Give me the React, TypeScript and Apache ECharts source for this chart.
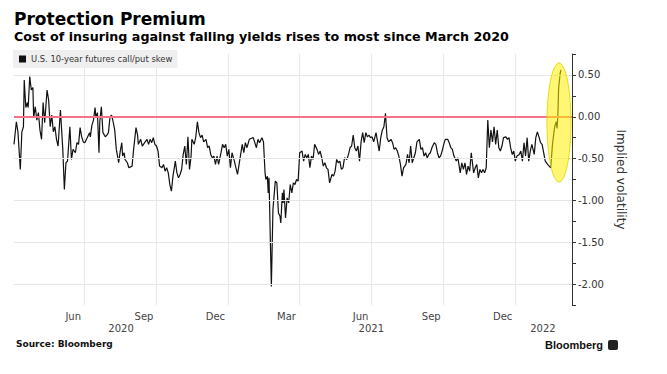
import React, { useEffect, useRef } from "react";
import * as echarts from "echarts";

// ---------- axis / calendar ----------
const START_DATE = "2020-03-04";
const END_DATE = "2022-02-11";
const MONTH_NAMES = ["Jan", "Feb", "Mar", "Apr", "May", "Jun", "Jul", "Aug", "Sep", "Oct", "Nov", "Dec"];
const QUARTER_MONTHS = ["03", "06", "09", "12"];
const YEAR_LABEL_DATES = ["2020-07-18", "2021-06-01", "2022-01-05"];
const Y_MIN = -2.25;
const Y_MAX = 0.75;
const Y_STEP = 0.25;
const GRID_LEVELS = [0.5, -0.5, -1.0, -1.5, -2.0];
const ZERO_LEVEL = 0;

// ---------- texts ----------
const TITLE = "Protection Premium";
const SUBTITLE = "Cost of insuring against falling yields rises to most since March 2020";
const SERIES_NAME = "U.S. 10-year futures call/put skew";
const Y_NAME = "Implied volatility";
const SOURCE = "Source: Bloomberg";

// ---------- data: [days since START_DATE, skew] ----------
const skewMar2020 = [
  [0, -0.33], [3, -0.06], [5, -0.18], [8, -0.63], [10, -0.18], [12, -0.12], [13, 0.44], [15, 0.11], [17, 0.17], [18, 0.11],
  [20, 0.48], [22, 0.32], [24, 0.35], [25, -0.01], [27, 0.12], [29, -0.04], [31, 0.05], [33, -0.16], [35, -0.27], [37, 0.17],
  [39, -0.07], [42, 0.32], [44, 0.2], [46, -0.12], [48, 0.02], [50, -0.18], [52, -0.12], [54, -0.27], [56, -0.35], [59, 0.08],
  [62, -0.39], [64, -0.87], [66, -0.55], [68, -0.53], [71, -0.12], [73, -0.51], [75, -0.39], [78, -0.43], [80, -0.31], [82, -0.33],
  [84, -0.13], [86, -0.24], [88, -0.3], [90, -0.31], [93, -0.25], [96, -0.19], [97, -0.24], [99, -0.1], [101, -0.04], [103, 0.11],
  [104, -0.01], [106, 0.05], [108, -0.43], [109, -0.06], [111, 0.12], [113, -0.19], [116, -0.24], [118, -0.22], [120, -0.19], [122, 0.0],
  [124, 0.02], [126, -0.06], [128, -0.16], [130, -0.39], [133, -0.55], [135, -0.41], [137, -0.31], [138, -0.47], [140, -0.43], [141, -0.51],
  [144, -0.55], [146, -0.61], [150, -0.59], [152, -0.39], [155, -0.13], [157, -0.22], [158, -0.33], [161, -0.27], [163, -0.35],
];
const skewAug2020 = [
  [166, -0.31], [169, -0.27], [171, -0.33], [173, -0.27], [175, -0.31], [177, -0.25], [179, -0.33], [181, -0.35], [183, -0.41], [185, -0.59],
  [188, -0.61], [190, -0.57], [192, -0.65], [194, -0.61], [196, -0.67], [198, -0.81], [200, -0.89], [202, -0.71], [205, -0.53], [207, -0.67],
  [209, -0.73], [211, -0.69], [213, -0.63], [215, -0.45], [217, -0.35], [219, -0.57], [221, -0.24], [223, -0.63], [225, -0.47], [226, -0.27],
  [229, -0.33], [231, -0.24], [233, -0.06], [235, -0.19], [237, -0.25], [239, -0.22], [241, -0.3], [244, -0.27], [246, -0.37], [248, -0.35],
  [250, -0.45], [252, -0.49], [254, -0.47], [256, -0.57], [258, -0.47], [260, -0.57], [263, -0.43], [265, -0.33], [267, -0.37], [269, -0.33],
  [271, -0.47], [273, -0.39], [275, -0.61], [277, -0.43], [280, -0.53], [282, -0.61], [284, -0.69], [286, -0.57], [288, -0.45], [290, -0.33],
  [292, -0.43], [294, -0.31], [296, -0.37], [299, -0.27],
];
const skewDec2020 = [
  [301, -0.26], [304, -0.25], [306, -0.31], [308, -0.37], [310, -0.27], [312, -0.31], [315, -0.25], [317, -0.3], [319, -0.67], [320, -0.75],
  [322, -0.71], [323, -0.91], [324, -0.73], [327, -2.03], [329, -1.11], [332, -0.77], [334, -0.79], [336, -1.15], [338, -1.19], [339, -1.27],
  [341, -0.91], [342, -1.03], [343, -0.87], [345, -1.21], [347, -0.97], [349, -1.03], [351, -0.81], [353, -0.91], [355, -0.79], [357, -0.81],
  [359, -0.75], [361, -0.77], [363, -0.43], [366, -0.41], [368, -0.53], [370, -0.45], [372, -0.49], [374, -0.45], [376, -0.61], [378, -0.47],
  [380, -0.51], [382, -0.33], [385, -0.39], [387, -0.45], [389, -0.41], [391, -0.49], [393, -0.59], [395, -0.55], [397, -0.61], [399, -0.63],
  [401, -0.79], [404, -0.69], [406, -0.71], [408, -0.65], [410, -0.51], [412, -0.55],
];
const skewApr2021 = [
  [414, -0.53], [416, -0.63], [418, -0.61], [420, -0.49], [423, -0.51], [425, -0.45], [427, -0.37], [429, -0.35], [431, -0.22], [433, -0.37],
  [435, -0.41], [437, -0.35], [439, -0.53], [441, -0.3], [443, -0.19], [445, -0.31], [447, -0.19], [449, -0.24], [451, -0.22], [453, -0.25],
  [455, -0.24], [457, -0.3], [460, -0.19], [462, -0.3], [464, -0.41], [466, -0.25], [468, -0.16], [470, -0.12], [472, 0.04], [474, -0.25],
  [476, -0.3], [479, -0.27], [481, -0.31], [483, -0.39], [485, -0.37], [487, -0.41], [489, -0.47], [491, -0.57], [493, -0.71], [495, -0.61],
  [498, -0.57], [500, -0.45], [502, -0.55], [504, -0.35], [506, -0.55], [508, -0.49], [510, -0.43], [512, -0.3], [515, -0.27], [517, -0.39],
  [519, -0.37], [521, -0.47], [523, -0.43], [525, -0.49], [527, -0.45], [529, -0.43], [531, -0.37], [534, -0.31], [536, -0.33], [538, -0.43],
  [540, -0.49], [542, -0.47], [544, -0.41], [546, -0.33], [548, -0.27], [551, -0.27], [553, -0.31], [555, -0.37], [557, -0.39], [559, -0.47],
];
const skewSep2021 = [
  [562, -0.53], [564, -0.49], [567, -0.67], [569, -0.55], [571, -0.63], [573, -0.55], [575, -0.69], [577, -0.59], [579, -0.65], [581, -0.43],
  [584, -0.67], [586, -0.61], [588, -0.57], [590, -0.73], [592, -0.63], [594, -0.67], [596, -0.63], [598, -0.67], [600, -0.61], [602, -0.04],
  [604, -0.37], [606, -0.16], [608, -0.3], [610, -0.12], [612, -0.33], [614, -0.16], [616, -0.37], [618, -0.41], [620, -0.35], [622, -0.25],
  [625, -0.24], [627, -0.27], [629, -0.25], [631, -0.37], [633, -0.45], [635, -0.41], [637, -0.53], [639, -0.47], [642, -0.45], [644, -0.41],
  [646, -0.53], [648, -0.31], [650, -0.47], [652, -0.25], [654, -0.53], [656, -0.41], [658, -0.33], [661, -0.45], [663, -0.25], [665, -0.18],
  [667, -0.24], [669, -0.31], [671, -0.33], [673, -0.43], [675, -0.53], [678, -0.57], [680, -0.59], [682, -0.61], [684, -0.35], [686, -0.19],
  [687, -0.12], [689, -0.06], [690, -0.14], [691, 0.0], [692, 0.34], [694, 0.52], [695, 0.56],
];

function buildDates(start: string, end: string): string[] {
  const out: string[] = [];
  const d = new Date(start + "T00:00:00Z");
  const e = new Date(end + "T00:00:00Z");
  while (d.getTime() <= e.getTime()) {
    out.push(d.toISOString().slice(0, 10));
    d.setUTCDate(d.getUTCDate() + 1);
  }
  return out;
}

const FONT = '"DejaVu Sans", Verdana, sans-serif';

export default function App() {
  const ref = useRef<HTMLDivElement>(null);

  useEffect(() => {
    document.body.style.margin = "0";
    if (!ref.current) return;
    const chart = echarts.init(ref.current, null, { renderer: "svg" });
    const dates = buildDates(START_DATE, END_DATE);
    const obs = [...skewMar2020, ...skewAug2020, ...skewDec2020, ...skewApr2021, ...skewSep2021];
    const seriesData = obs.map(([day, v]) => [dates[day], v]);

    const isQuarterStart = (_i: number, v: string) =>
      v.slice(8) === "01" && QUARTER_MONTHS.includes(v.slice(5, 7));
    const isYearLabel = (_i: number, v: string) => YEAR_LABEL_DATES.includes(v);

    chart.setOption({
      animation: false,
      textStyle: { fontFamily: FONT },
      grid: { left: 14, right: 95, top: 54, bottom: 69, containLabel: false, outerBoundsMode: "none" },
      legend: {
        data: [SERIES_NAME],
        left: 13,
        top: 50,
        padding: [5, 5, 5, 6],
        backgroundColor: "#efefef",
        icon: "rect",
        itemWidth: 7,
        itemHeight: 7,
        textStyle: { fontFamily: FONT, fontSize: 8.4, color: "#333" },
        selectedMode: false,
      },
      xAxis: [
        {
          type: "category",
          data: dates,
          boundaryGap: false,
          axisLine: { show: false },
          axisTick: { show: false },
          axisLabel: {
            interval: isQuarterStart,
            formatter: (v: string) => MONTH_NAMES[parseInt(v.slice(5, 7), 10) - 1],
            align: "right",
            padding: [0, 3, 0, 0],
            margin: 6,
            color: "#444",
            fontSize: 10,
            fontFamily: FONT,
          },
          splitLine: { show: true, interval: isQuarterStart, lineStyle: { color: "#e8e8e8", width: 1 } },
        },
        {
          type: "category",
          data: dates,
          position: "bottom",
          offset: 12,
          boundaryGap: false,
          axisLine: { show: false },
          axisTick: { show: false },
          splitLine: { show: false },
          axisLabel: {
            interval: isYearLabel,
            formatter: (v: string) => v.slice(0, 4),
            margin: 6,
            color: "#444",
            fontSize: 10,
            fontFamily: FONT,
          },
        },
      ],
      yAxis: {
        type: "value",
        position: "right",
        min: Y_MIN,
        max: Y_MAX,
        interval: Y_STEP,
        name: Y_NAME,
        nameLocation: "middle",
        nameGap: 40,
        nameRotate: -90,
        nameTextStyle: { fontFamily: FONT, fontSize: 12, color: "#333" },
        axisLine: { show: true, lineStyle: { color: "#333", width: 1 } },
        axisTick: { show: true, inside: false, length: 4, lineStyle: { color: "#333" } },
        axisLabel: {
          margin: 6,
          color: "#333",
          fontSize: 10,
          fontFamily: FONT,
          formatter: (v: number) => (Math.round(v / Y_STEP) % 2 === 0 ? v.toFixed(2) : ""),
        },
        splitLine: { show: false },
      },
      series: [
        {
          name: "reference lines",
          type: "line",
          data: [],
          z: 1,
          silent: true,
          markLine: {
            silent: true,
            symbol: ["none", "none"],
            label: { show: false },
            animation: false,
            data: [
              ...GRID_LEVELS.map((v) => ({ yAxis: v, lineStyle: { color: "#e6e6e6", width: 1, type: "solid" } })),
              { yAxis: ZERO_LEVEL, lineStyle: { color: "#f47388", width: 2, type: "solid" } },
            ],
          },
        },
        {
          name: SERIES_NAME,
          type: "line",
          data: seriesData,
          showSymbol: false,
          symbol: "none",
          z: 3,
          lineStyle: { color: "#111", width: 1.2 },
          itemStyle: { color: "#111" },
        },
      ],
      graphic: [
        {
          type: "text",
          left: 14,
          top: 10,
          style: { text: TITLE, font: `bold 17px ${FONT}`, fill: "#000" },
        },
        {
          type: "text",
          left: 14,
          top: 30,
          style: { text: SUBTITLE, font: `bold 12.7px ${FONT}`, fill: "#000" },
        },
        {
          type: "text",
          left: 16,
          top: 339,
          style: { text: SOURCE, font: `bold 9px ${FONT}`, fill: "#111" },
        },
        {
          type: "text",
          right: 64,
          top: 339,
          style: { text: "Bloomberg", font: 'bold 11px "Liberation Sans", Arial, sans-serif', fill: "#111" },
        },
        {
          type: "rect",
          right: 49,
          top: 340,
          shape: { width: 10, height: 10, r: 2 },
          style: { fill: "#222" },
        },
        {
          type: "ellipse",
          z: 100,
          shape: { cx: 559, cy: 122.5, rx: 12, ry: 59.5 },
          style: { fill: "rgba(255,238,0,0.55)", stroke: "rgba(230,215,0,0.9)", lineWidth: 1 },
        },
      ],
    });

    return () => chart.dispose();
  }, []);

  return <div ref={ref} style={{ width: 667, height: 374 }} />;
}
